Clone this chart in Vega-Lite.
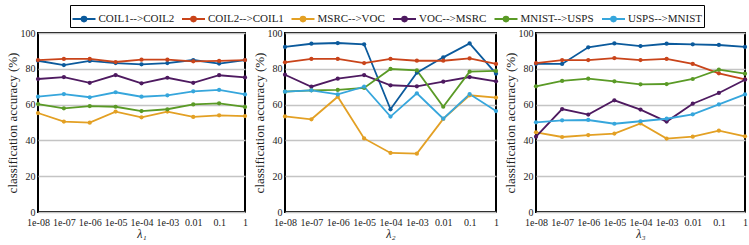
{
  "$schema": "https://vega.github.io/schema/vega-lite/v6.json",
  "padding": {"left": 5, "top": 4, "right": 2, "bottom": 4},
  "config": {
    "font": "Liberation Serif",
    "view": {"stroke": "black", "strokeWidth": 2},
    "axis": {"labelFont": "Liberation Serif", "titleFont": "Liberation Serif", "labelFontSize": 10, "titleFontSize": 13, "titleFontWeight": "normal", "labelColor": "#222", "titleColor": "#222", "gridColor": "#c4c4c4", "gridWidth": 1.3, "domain": false, "ticks": false, "labelPadding": 3},
    "legend": {"labelFont": "Liberation Serif", "labelFontSize": 11, "labelColor": "#222"},
    "concat": {"spacing": 2}
  },
  "datasets": {
    "d": [
      {"p":1,"s":"COIL1-->COIL2","x":"1e-08","y":84.5},{"p":1,"s":"COIL1-->COIL2","x":"1e-07","y":82.1},{"p":1,"s":"COIL1-->COIL2","x":"1e-06","y":84.4},{"p":1,"s":"COIL1-->COIL2","x":"1e-05","y":83.2},{"p":1,"s":"COIL1-->COIL2","x":"1e-04","y":82.5},{"p":1,"s":"COIL1-->COIL2","x":"1e-03","y":83.2},{"p":1,"s":"COIL1-->COIL2","x":"0.01","y":84.9},{"p":1,"s":"COIL1-->COIL2","x":"0.1","y":82.9},{"p":1,"s":"COIL1-->COIL2","x":"1","y":84.9},
      {"p":1,"s":"COIL2-->COIL1","x":"1e-08","y":84.9},{"p":1,"s":"COIL2-->COIL1","x":"1e-07","y":85.5},{"p":1,"s":"COIL2-->COIL1","x":"1e-06","y":85.5},{"p":1,"s":"COIL2-->COIL1","x":"1e-05","y":83.8},{"p":1,"s":"COIL2-->COIL1","x":"1e-04","y":85.1},{"p":1,"s":"COIL2-->COIL1","x":"1e-03","y":85.1},{"p":1,"s":"COIL2-->COIL1","x":"0.01","y":84.2},{"p":1,"s":"COIL2-->COIL1","x":"0.1","y":84.4},{"p":1,"s":"COIL2-->COIL1","x":"1","y":84.9},
      {"p":1,"s":"MSRC-->VOC","x":"1e-08","y":55.3},{"p":1,"s":"MSRC-->VOC","x":"1e-07","y":50.5},{"p":1,"s":"MSRC-->VOC","x":"1e-06","y":49.9},{"p":1,"s":"MSRC-->VOC","x":"1e-05","y":56.1},{"p":1,"s":"MSRC-->VOC","x":"1e-04","y":52.9},{"p":1,"s":"MSRC-->VOC","x":"1e-03","y":56.1},{"p":1,"s":"MSRC-->VOC","x":"0.01","y":53.1},{"p":1,"s":"MSRC-->VOC","x":"0.1","y":54.0},{"p":1,"s":"MSRC-->VOC","x":"1","y":53.6},
      {"p":1,"s":"VOC-->MSRC","x":"1e-08","y":74.3},{"p":1,"s":"VOC-->MSRC","x":"1e-07","y":75.4},{"p":1,"s":"VOC-->MSRC","x":"1e-06","y":72.2},{"p":1,"s":"VOC-->MSRC","x":"1e-05","y":76.5},{"p":1,"s":"VOC-->MSRC","x":"1e-04","y":71.9},{"p":1,"s":"VOC-->MSRC","x":"1e-03","y":75.0},{"p":1,"s":"VOC-->MSRC","x":"0.01","y":72.2},{"p":1,"s":"VOC-->MSRC","x":"0.1","y":76.4},{"p":1,"s":"VOC-->MSRC","x":"1","y":75.2},
      {"p":1,"s":"MNIST-->USPS","x":"1e-08","y":60.3},{"p":1,"s":"MNIST-->USPS","x":"1e-07","y":57.9},{"p":1,"s":"MNIST-->USPS","x":"1e-06","y":59.2},{"p":1,"s":"MNIST-->USPS","x":"1e-05","y":58.8},{"p":1,"s":"MNIST-->USPS","x":"1e-04","y":56.4},{"p":1,"s":"MNIST-->USPS","x":"1e-03","y":57.4},{"p":1,"s":"MNIST-->USPS","x":"0.01","y":60.1},{"p":1,"s":"MNIST-->USPS","x":"0.1","y":60.7},{"p":1,"s":"MNIST-->USPS","x":"1","y":58.7},
      {"p":1,"s":"USPS-->MNIST","x":"1e-08","y":64.4},{"p":1,"s":"USPS-->MNIST","x":"1e-07","y":65.9},{"p":1,"s":"USPS-->MNIST","x":"1e-06","y":64.1},{"p":1,"s":"USPS-->MNIST","x":"1e-05","y":66.9},{"p":1,"s":"USPS-->MNIST","x":"1e-04","y":64.4},{"p":1,"s":"USPS-->MNIST","x":"1e-03","y":65.2},{"p":1,"s":"USPS-->MNIST","x":"0.01","y":67.4},{"p":1,"s":"USPS-->MNIST","x":"0.1","y":68.2},{"p":1,"s":"USPS-->MNIST","x":"1","y":65.7},

      {"p":2,"s":"COIL1-->COIL2","x":"1e-08","y":92.2},{"p":2,"s":"COIL1-->COIL2","x":"1e-07","y":94.0},{"p":2,"s":"COIL1-->COIL2","x":"1e-06","y":94.4},{"p":2,"s":"COIL1-->COIL2","x":"1e-05","y":93.7},{"p":2,"s":"COIL1-->COIL2","x":"1e-04","y":57.4},{"p":2,"s":"COIL1-->COIL2","x":"1e-03","y":77.8},{"p":2,"s":"COIL1-->COIL2","x":"0.01","y":86.4},{"p":2,"s":"COIL1-->COIL2","x":"0.1","y":94.2},{"p":2,"s":"COIL1-->COIL2","x":"1","y":77.3},
      {"p":2,"s":"COIL2-->COIL1","x":"1e-08","y":83.6},{"p":2,"s":"COIL2-->COIL1","x":"1e-07","y":85.5},{"p":2,"s":"COIL2-->COIL1","x":"1e-06","y":85.5},{"p":2,"s":"COIL2-->COIL1","x":"1e-05","y":83.2},{"p":2,"s":"COIL2-->COIL1","x":"1e-04","y":85.5},{"p":2,"s":"COIL2-->COIL1","x":"1e-03","y":84.5},{"p":2,"s":"COIL2-->COIL1","x":"0.01","y":84.5},{"p":2,"s":"COIL2-->COIL1","x":"0.1","y":85.8},{"p":2,"s":"COIL2-->COIL1","x":"1","y":82.7},
      {"p":2,"s":"MSRC-->VOC","x":"1e-08","y":53.4},{"p":2,"s":"MSRC-->VOC","x":"1e-07","y":51.8},{"p":2,"s":"MSRC-->VOC","x":"1e-06","y":64.4},{"p":2,"s":"MSRC-->VOC","x":"1e-05","y":41.1},{"p":2,"s":"MSRC-->VOC","x":"1e-04","y":33.0},{"p":2,"s":"MSRC-->VOC","x":"1e-03","y":32.6},{"p":2,"s":"MSRC-->VOC","x":"0.01","y":52.0},{"p":2,"s":"MSRC-->VOC","x":"0.1","y":65.2},{"p":2,"s":"MSRC-->VOC","x":"1","y":63.9},
      {"p":2,"s":"VOC-->MSRC","x":"1e-08","y":76.7},{"p":2,"s":"VOC-->MSRC","x":"1e-07","y":70.0},{"p":2,"s":"VOC-->MSRC","x":"1e-06","y":74.5},{"p":2,"s":"VOC-->MSRC","x":"1e-05","y":76.5},{"p":2,"s":"VOC-->MSRC","x":"1e-04","y":70.8},{"p":2,"s":"VOC-->MSRC","x":"1e-03","y":70.2},{"p":2,"s":"VOC-->MSRC","x":"0.01","y":72.8},{"p":2,"s":"VOC-->MSRC","x":"0.1","y":75.4},{"p":2,"s":"VOC-->MSRC","x":"1","y":73.0},
      {"p":2,"s":"MNIST-->USPS","x":"1e-08","y":67.2},{"p":2,"s":"MNIST-->USPS","x":"1e-07","y":68.0},{"p":2,"s":"MNIST-->USPS","x":"1e-06","y":68.2},{"p":2,"s":"MNIST-->USPS","x":"1e-05","y":69.3},{"p":2,"s":"MNIST-->USPS","x":"1e-04","y":79.9},{"p":2,"s":"MNIST-->USPS","x":"1e-03","y":79.1},{"p":2,"s":"MNIST-->USPS","x":"0.01","y":58.8},{"p":2,"s":"MNIST-->USPS","x":"0.1","y":78.4},{"p":2,"s":"MNIST-->USPS","x":"1","y":78.8},
      {"p":2,"s":"USPS-->MNIST","x":"1e-08","y":67.2},{"p":2,"s":"USPS-->MNIST","x":"1e-07","y":68.0},{"p":2,"s":"USPS-->MNIST","x":"1e-06","y":65.7},{"p":2,"s":"USPS-->MNIST","x":"1e-05","y":70.0},{"p":2,"s":"USPS-->MNIST","x":"1e-04","y":53.3},{"p":2,"s":"USPS-->MNIST","x":"1e-03","y":66.3},{"p":2,"s":"USPS-->MNIST","x":"0.01","y":52.1},{"p":2,"s":"USPS-->MNIST","x":"0.1","y":65.9},{"p":2,"s":"USPS-->MNIST","x":"1","y":56.4},

      {"p":3,"s":"COIL1-->COIL2","x":"1e-08","y":82.7},{"p":3,"s":"COIL1-->COIL2","x":"1e-07","y":82.7},{"p":3,"s":"COIL1-->COIL2","x":"1e-06","y":92.0},{"p":3,"s":"COIL1-->COIL2","x":"1e-05","y":94.2},{"p":3,"s":"COIL1-->COIL2","x":"1e-04","y":92.7},{"p":3,"s":"COIL1-->COIL2","x":"1e-03","y":94.0},{"p":3,"s":"COIL1-->COIL2","x":"0.01","y":93.7},{"p":3,"s":"COIL1-->COIL2","x":"0.1","y":93.3},{"p":3,"s":"COIL1-->COIL2","x":"1","y":92.2},
      {"p":3,"s":"COIL2-->COIL1","x":"1e-08","y":83.2},{"p":3,"s":"COIL2-->COIL1","x":"1e-07","y":84.9},{"p":3,"s":"COIL2-->COIL1","x":"1e-06","y":84.9},{"p":3,"s":"COIL2-->COIL1","x":"1e-05","y":86.0},{"p":3,"s":"COIL2-->COIL1","x":"1e-04","y":84.9},{"p":3,"s":"COIL2-->COIL1","x":"1e-03","y":85.5},{"p":3,"s":"COIL2-->COIL1","x":"0.01","y":82.7},{"p":3,"s":"COIL2-->COIL1","x":"0.1","y":77.5},{"p":3,"s":"COIL2-->COIL1","x":"1","y":74.1},
      {"p":3,"s":"MSRC-->VOC","x":"1e-08","y":44.5},{"p":3,"s":"MSRC-->VOC","x":"1e-07","y":41.9},{"p":3,"s":"MSRC-->VOC","x":"1e-06","y":43.0},{"p":3,"s":"MSRC-->VOC","x":"1e-05","y":43.8},{"p":3,"s":"MSRC-->VOC","x":"1e-04","y":49.5},{"p":3,"s":"MSRC-->VOC","x":"1e-03","y":41.0},{"p":3,"s":"MSRC-->VOC","x":"0.01","y":42.1},{"p":3,"s":"MSRC-->VOC","x":"0.1","y":45.4},{"p":3,"s":"MSRC-->VOC","x":"1","y":42.3},
      {"p":3,"s":"VOC-->MSRC","x":"1e-08","y":42.1},{"p":3,"s":"VOC-->MSRC","x":"1e-07","y":57.5},{"p":3,"s":"VOC-->MSRC","x":"1e-06","y":54.4},{"p":3,"s":"VOC-->MSRC","x":"1e-05","y":62.4},{"p":3,"s":"VOC-->MSRC","x":"1e-04","y":57.2},{"p":3,"s":"VOC-->MSRC","x":"1e-03","y":50.5},{"p":3,"s":"VOC-->MSRC","x":"0.01","y":60.5},{"p":3,"s":"VOC-->MSRC","x":"0.1","y":66.5},{"p":3,"s":"VOC-->MSRC","x":"1","y":73.9},
      {"p":3,"s":"MNIST-->USPS","x":"1e-08","y":70.2},{"p":3,"s":"MNIST-->USPS","x":"1e-07","y":73.2},{"p":3,"s":"MNIST-->USPS","x":"1e-06","y":74.5},{"p":3,"s":"MNIST-->USPS","x":"1e-05","y":73.0},{"p":3,"s":"MNIST-->USPS","x":"1e-04","y":71.3},{"p":3,"s":"MNIST-->USPS","x":"1e-03","y":71.5},{"p":3,"s":"MNIST-->USPS","x":"0.01","y":74.3},{"p":3,"s":"MNIST-->USPS","x":"0.1","y":79.5},{"p":3,"s":"MNIST-->USPS","x":"1","y":77.3},
      {"p":3,"s":"USPS-->MNIST","x":"1e-08","y":50.1},{"p":3,"s":"USPS-->MNIST","x":"1e-07","y":51.2},{"p":3,"s":"USPS-->MNIST","x":"1e-06","y":51.4},{"p":3,"s":"USPS-->MNIST","x":"1e-05","y":49.3},{"p":3,"s":"USPS-->MNIST","x":"1e-04","y":50.7},{"p":3,"s":"USPS-->MNIST","x":"1e-03","y":52.1},{"p":3,"s":"USPS-->MNIST","x":"0.01","y":54.6},{"p":3,"s":"USPS-->MNIST","x":"0.1","y":60.1},{"p":3,"s":"USPS-->MNIST","x":"1","y":65.7}
    ]
  },
  "data": {"name": "d"},
  "hconcat": [
    {
      "width": 207, "height": 179,
      "transform": [{"filter": "datum.p == 1"}],
      "mark": {"type": "line", "strokeWidth": 1.8, "point": {"filled": true, "size": 18}},
      "encoding": {
        "x": {"field": "x", "type": "ordinal", "sort": ["1e-08","1e-07","1e-06","1e-05","1e-04","1e-03","0.01","0.1","1"], "scale": {"padding": 0}, "axis": {"title": "λ₁", "titleFontSize": 12, "labelAngle": 0, "titleFontStyle": "italic", "titlePadding": 1, "labelPadding": 5}},
        "y": {"field": "y", "type": "quantitative", "scale": {"domain": [0, 100]}, "axis": {"title": "classification accuracy (%)", "values": [0,20,40,60,80,100], "titlePadding": 1}},
        "color": {"field": "s", "type": "nominal", "scale": {"domain": ["COIL1-->COIL2","COIL2-->COIL1","MSRC-->VOC","VOC-->MSRC","MNIST-->USPS","USPS-->MNIST"], "range": ["#0b5a9c","#c9441a","#e3a024","#4e1a60","#5a9a26","#36a6dc"]},
          "legend": {"title": null, "orient": "none", "legendX": 32, "legendY": -28, "direction": "horizontal", "columns": 6, "strokeColor": "black", "fillColor": "white", "padding": 1.5, "symbolType": "M-1,0H1M-0.2,0A0.2,0.2 0 1,0 0.2,0A0.2,0.2 0 1,0 -0.2,0Z", "symbolSize": 529, "symbolStrokeWidth": 2, "columnPadding": 3.5, "labelOffset": 2}}
      }
    },
    {
      "width": 211, "height": 179,
      "transform": [{"filter": "datum.p == 2"}],
      "mark": {"type": "line", "strokeWidth": 1.8, "point": {"filled": true, "size": 18}},
      "encoding": {
        "x": {"field": "x", "type": "ordinal", "sort": ["1e-08","1e-07","1e-06","1e-05","1e-04","1e-03","0.01","0.1","1"], "scale": {"padding": 0}, "axis": {"title": "λ₂", "titleFontSize": 12, "labelAngle": 0, "titleFontStyle": "italic", "titlePadding": 1, "labelPadding": 5}},
        "y": {"field": "y", "type": "quantitative", "scale": {"domain": [0, 100]}, "axis": {"title": "classification accuracy (%)", "values": [0,20,40,60,80,100], "titlePadding": 1}},
        "color": {"field": "s", "type": "nominal", "scale": {"domain": ["COIL1-->COIL2","COIL2-->COIL1","MSRC-->VOC","VOC-->MSRC","MNIST-->USPS","USPS-->MNIST"], "range": ["#0b5a9c","#c9441a","#e3a024","#4e1a60","#5a9a26","#36a6dc"]},
          "legend": {"title": null, "orient": "none", "legendX": 32, "legendY": -28, "direction": "horizontal", "columns": 6, "strokeColor": "black", "fillColor": "white", "padding": 1.5, "symbolType": "M-1,0H1M-0.2,0A0.2,0.2 0 1,0 0.2,0A0.2,0.2 0 1,0 -0.2,0Z", "symbolSize": 529, "symbolStrokeWidth": 2, "columnPadding": 3.5, "labelOffset": 2}}
      }
    },
    {
      "width": 209, "height": 179,
      "transform": [{"filter": "datum.p == 3"}],
      "mark": {"type": "line", "strokeWidth": 1.8, "point": {"filled": true, "size": 18}},
      "encoding": {
        "x": {"field": "x", "type": "ordinal", "sort": ["1e-08","1e-07","1e-06","1e-05","1e-04","1e-03","0.01","0.1","1"], "scale": {"padding": 0}, "axis": {"title": "λ₃", "titleFontSize": 12, "labelAngle": 0, "titleFontStyle": "italic", "titlePadding": 1, "labelPadding": 5}},
        "y": {"field": "y", "type": "quantitative", "scale": {"domain": [0, 100]}, "axis": {"title": "classification accuracy (%)", "values": [0,20,40,60,80,100], "titlePadding": 1}},
        "color": {"field": "s", "type": "nominal", "scale": {"domain": ["COIL1-->COIL2","COIL2-->COIL1","MSRC-->VOC","VOC-->MSRC","MNIST-->USPS","USPS-->MNIST"], "range": ["#0b5a9c","#c9441a","#e3a024","#4e1a60","#5a9a26","#36a6dc"]},
          "legend": {"title": null, "orient": "none", "legendX": 32, "legendY": -28, "direction": "horizontal", "columns": 6, "strokeColor": "black", "fillColor": "white", "padding": 1.5, "symbolType": "M-1,0H1M-0.2,0A0.2,0.2 0 1,0 0.2,0A0.2,0.2 0 1,0 -0.2,0Z", "symbolSize": 529, "symbolStrokeWidth": 2, "columnPadding": 3.5, "labelOffset": 2}}
      }
    }
  ]
}
